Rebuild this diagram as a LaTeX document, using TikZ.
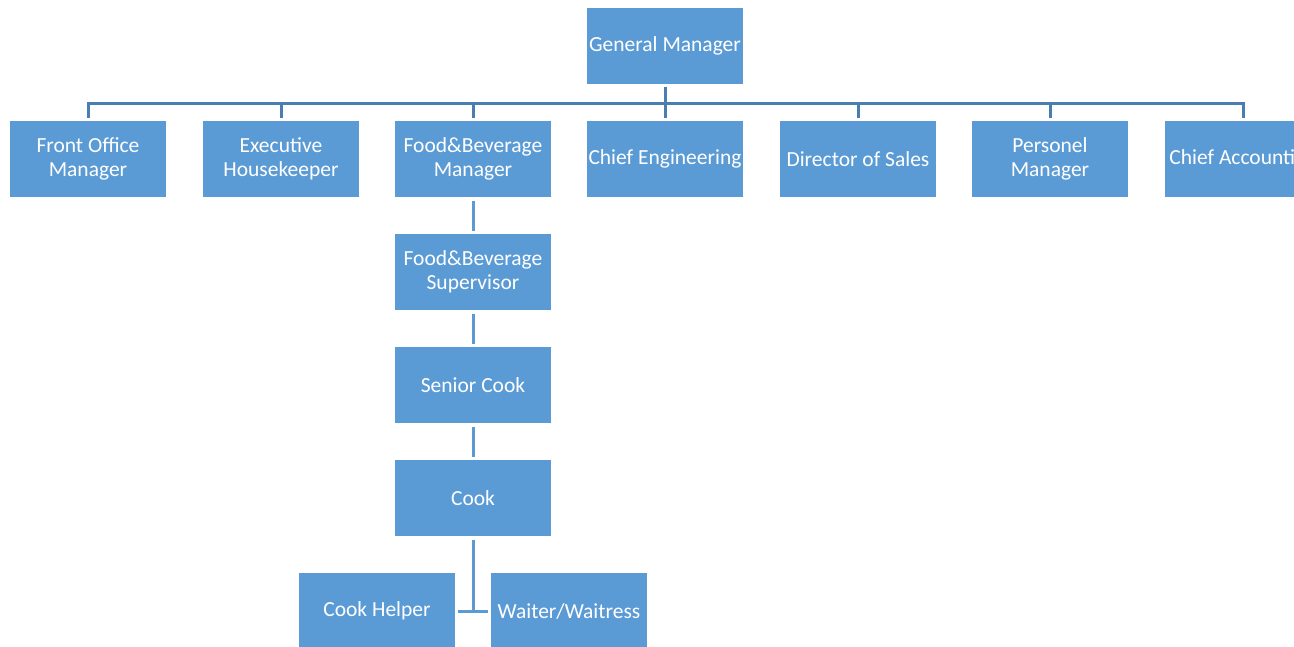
\documentclass[tikz,border=0pt]{standalone}
\usepackage{fontspec}
\setmainfont{Carlito}
\definecolor{boxblue}{HTML}{5B9BD5}
\definecolor{barblue}{HTML}{4A7EB1}
\begin{document}
\begin{tikzpicture}[x=1pt,y=-1pt,
  orgbox/.style={fill=boxblue, draw=none, minimum width=156pt, minimum height=76pt,
    inner sep=0pt, align=center, text=white, font=\fontsize{21.5pt}{24pt}\selectfont},
  topline/.style={draw=barblue, line width=3pt},
  chainline/.style={draw=boxblue, line width=3pt}]
\useasboundingbox (0,0) rectangle (1294,646);
\clip (0,0) rectangle (1294,646);
\node[orgbox] (gm) at (665,46) {General Manager};
\node[orgbox] (fo) at (88,159) {Front Office\\Manager};
\node[orgbox] (eh) at (281,159) {Executive\\Housekeeper};
\node[orgbox] (fb) at (473,159) {Food\&Beverage\\Manager};
\node[orgbox] (ce) at (665,159) {Chief Engineering};
\node[orgbox] (ds) at (858,159) {Director of Sales};
\node[orgbox] (pm) at (1050,159) {Personel\\Manager};
\node[orgbox] (ca) at (1243,159) {Chief Accounting};
\node[orgbox] (fbs) at (473,272) {Food\&Beverage\\Supervisor};
\node[orgbox] (sc) at (473,385) {Senior Cook};
\node[orgbox] (ck) at (473,498) {Cook};
\node[orgbox] (ch) at (377,611) {Cook Helper};
\node[orgbox] (ww) at (569,611) {Waiter/Waitress};
\coordinate (hub) at (665,103);
% top level connectors
\draw[topline] ([yshift=3pt]fo.north) |- (hub) -| ([yshift=3pt]ca.north);
\draw[topline] ([yshift=-3pt]gm.south) -- ([yshift=3pt]ce.north);
\foreach \n in {eh,fb,ds,pm}
  \draw[topline] ([yshift=3pt]\n.north) -- (\n.north |- hub);
% F&B chain
\draw[chainline] ([yshift=-4pt]fb.south) -- ([yshift=3pt]fbs.north);
\draw[chainline] ([yshift=-4pt]fbs.south) -- ([yshift=3pt]sc.north);
\draw[chainline] ([yshift=-4pt]sc.south) -- ([yshift=3pt]ck.north);
\draw[chainline] ([yshift=-4pt]ck.south) -- (ck.south |- ch.east);
\draw[chainline] ([xshift=3pt]ch.east) -- ([xshift=-3pt]ww.west);
\end{tikzpicture}
\end{document}
